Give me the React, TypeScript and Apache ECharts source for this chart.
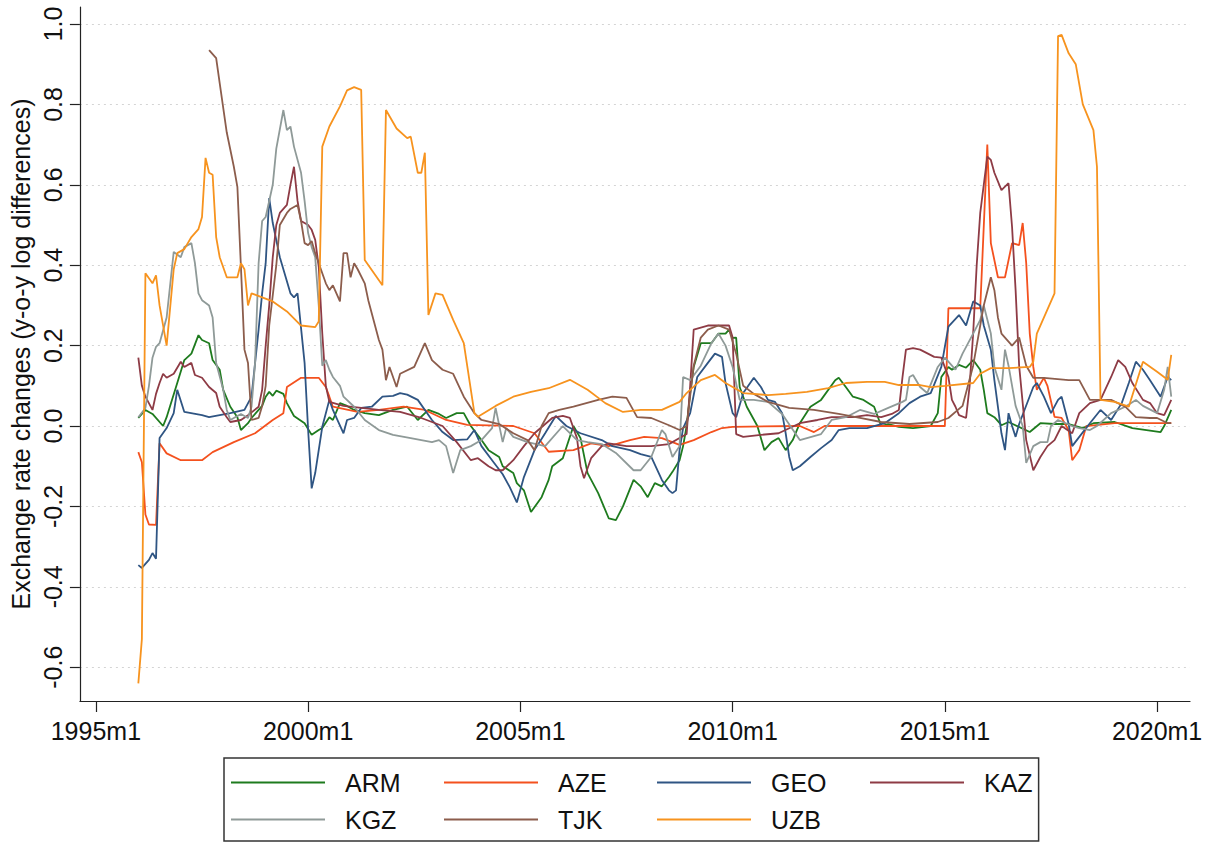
import React, { useEffect, useRef } from "react";
import * as echarts from "echarts";

// x values are months since 1995m1 (0 = 1995m1, 12 = 1996m1, ...)
const COUNTRIES = ["ARM", "AZE", "GEO", "KAZ", "KGZ", "TJK", "UZB"];
const COLORS = ["#1e7b1e", "#f4511e", "#2f5583", "#8e3b45", "#8f9a98", "#8c5d4c", "#f7931e"];
const X_TICKS = [0, 60, 120, 180, 240, 300];
const Y_TICKS = [-0.6, -0.4, -0.2, 0, 0.2, 0.4, 0.6, 0.8, 1.0];
const Y_TITLE = "Exchange rate changes (y-o-y log differences)";

const ARM: [number, number][] = [[12,0.02],[14,0.04],[16,0.03],[19,0.0],[20,0.022],[23,0.107],[25,0.164],[27,0.18],[29,0.226],[30,0.214],[32,0.206],[33,0.164],[35,0.14],[36,0.09],[38,0.048],[40,0.022],[41,-0.01],[43,0.007],[44,0.02],[47,0.05],[48,0.073],[49,0.085],[50,0.075],[51,0.088],[53,0.08],[54,0.057],[56,0.025],[59,0.007],[61,-0.022],[63,-0.01],[64,-0.005],[66,0.022],[67,0.015],[69,0.057],[71,0.05],[73,0.04],[76,0.032],[80,0.027],[84,0.04],[88,0.048],[91,0.015],[94,0.04],[97,0.03],[99,0.02],[102,0.032],[104,0.032],[106,0.0],[109,-0.035],[111,-0.06],[114,-0.077],[115,-0.1],[118,-0.117],[119,-0.142],[121,-0.16],[123,-0.214],[126,-0.177],[128,-0.134],[129,-0.1],[132,-0.08],[135,0.0],[137,-0.03],[139,-0.117],[142,-0.167],[145,-0.23],[147,-0.234],[149,-0.2],[152,-0.134],[154,-0.15],[156,-0.177],[158,-0.142],[160,-0.15],[162,-0.127],[163,-0.114],[165,-0.085],[166,-0.05],[167,0.0],[168,0.082],[169,0.147],[171,0.206],[174,0.206],[176,0.23],[178,0.23],[179,0.24],[180,0.219],[181,0.22],[182,0.097],[184,0.048],[187,0.0],[189,-0.06],[191,-0.04],[193,-0.03],[195,-0.06],[197,-0.035],[199,0.007],[202,0.048],[205,0.065],[209,0.114],[210,0.12],[212,0.097],[214,0.073],[217,0.065],[220,0.048],[222,0.0],[224,0.005],[227,-0.002],[231,-0.005],[236,0.0],[238,0.032],[239,0.122],[241,0.147],[242,0.14],[244,0.152],[246,0.145],[248,0.164],[250,0.14],[251,0.09],[252,0.032],[254,0.022],[256,0.002],[258,0.01],[264,-0.015],[267,0.007],[271,0.005],[275,0.005],[279,-0.005],[282,0.007],[288,0.01],[293,-0.005],[297,-0.01],[301,-0.015],[302,0.0],[304,0.04]];

const AZE: [number, number][] = [[12,-0.065],[13,-0.09],[14,-0.22],[15,-0.245],[17,-0.246],[18,-0.043],[20,-0.068],[24,-0.085],[30,-0.085],[33,-0.065],[39,-0.04],[45,-0.018],[50,0.015],[53,0.032],[54,0.097],[58,0.12],[63,0.12],[65,0.097],[66,0.073],[67,0.048],[74,0.035],[80,0.04],[87,0.048],[93,0.04],[99,0.015],[105,0.003],[118,0.0],[124,-0.018],[128,-0.064],[135,-0.06],[140,-0.043],[145,-0.05],[151,-0.035],[155,-0.027],[160,-0.03],[165,-0.047],[169,-0.035],[174,-0.015],[177,-0.005],[180,-0.002],[199,0.0],[203,-0.015],[206,0.0],[240,0.0],[241,0.293],[250,0.293],[252,0.70],[253,0.455],[255,0.37],[257,0.37],[259,0.455],[261,0.45],[262,0.505],[263,0.405],[264,0.23],[265,0.147],[266,0.09],[268,0.12],[269,0.1],[271,0.023],[273,0.02],[275,-0.01],[276,-0.085],[278,-0.06],[280,0.0],[288,0.007],[304,0.007]];

const GEO: [number, number][] = [[12,-0.346],[13,-0.353],[15,-0.333],[16,-0.316],[17,-0.33],[18,-0.03],[20,-0.005],[22,0.032],[23,0.09],[25,0.035],[30,0.027],[32,0.022],[38,0.032],[42,0.04],[44,0.073],[46,0.24],[47,0.33],[48,0.405],[49,0.567],[50,0.505],[52,0.42],[53,0.39],[55,0.33],[56,0.32],[57,0.33],[59,0.157],[60,-0.01],[61,-0.155],[62,-0.117],[64,-0.002],[66,0.065],[67,0.04],[70,-0.018],[71,0.015],[73,0.02],[75,0.045],[78,0.048],[81,0.073],[84,0.075],[86,0.082],[88,0.078],[91,0.065],[95,0.015],[98,-0.015],[101,-0.035],[105,-0.033],[107,-0.01],[109,-0.05],[112,-0.085],[115,-0.12],[117,-0.152],[119,-0.19],[121,-0.127],[124,-0.06],[127,-0.018],[130,0.025],[133,0.0],[137,-0.018],[143,-0.035],[146,-0.05],[151,-0.06],[154,-0.07],[157,-0.077],[160,-0.134],[162,-0.16],[163,-0.167],[164,-0.16],[165,-0.06],[166,-0.005],[168,0.032],[170,0.122],[173,0.157],[175,0.18],[177,0.172],[178,0.107],[180,0.032],[181,0.022],[183,0.082],[186,0.12],[188,0.097],[190,0.065],[192,0.06],[194,0.032],[195,-0.018],[196,-0.077],[197,-0.11],[199,-0.1],[202,-0.077],[205,-0.055],[208,-0.035],[210,-0.01],[213,-0.005],[218,-0.005],[223,0.007],[227,0.032],[230,0.057],[233,0.073],[236,0.082],[239,0.147],[241,0.247],[244,0.276],[246,0.25],[248,0.31],[250,0.30],[251,0.25],[253,0.19],[254,0.114],[256,-0.018],[257,-0.06],[258,0.032],[259,0.0],[260,-0.027],[261,0.005],[265,0.097],[266,0.107],[268,0.073],[270,0.032],[272,0.065],[273,0.073],[275,0.005],[276,-0.05],[278,-0.027],[281,0.007],[284,0.04],[287,0.015],[290,0.057],[292,0.107],[294,0.16],[296,0.14],[298,0.114],[301,0.073],[303,0.122],[304,0.114]];

const KAZ: [number, number][] = [[12,0.17],[13,0.1],[14,0.073],[16,0.04],[17,0.08],[18,0.107],[19,0.13],[20,0.12],[22,0.13],[24,0.16],[25,0.147],[27,0.157],[28,0.127],[30,0.12],[32,0.097],[34,0.082],[35,0.048],[37,0.022],[38,0.01],[41,0.015],[43,0.027],[46,0.048],[47,0.09],[48,0.2],[49,0.3],[50,0.42],[51,0.5],[52,0.53],[54,0.55],[55,0.6],[56,0.645],[57,0.56],[58,0.51],[60,0.5],[61,0.488],[62,0.463],[63,0.396],[64,0.23],[65,0.1],[66,0.06],[70,0.05],[75,0.045],[80,0.04],[86,0.035],[92,0.02],[98,0.0],[102,-0.04],[106,-0.085],[108,-0.08],[111,-0.1],[113,-0.11],[115,-0.11],[118,-0.085],[121,-0.05],[124,-0.018],[129,0.02],[132,0.025],[134,0.02],[136,-0.03],[137,-0.1],[138,-0.13],[140,-0.08],[143,-0.05],[145,-0.043],[150,-0.05],[157,-0.05],[162,-0.045],[165,-0.03],[167,-0.02],[168,0.1],[169,0.24],[173,0.25],[179,0.25],[180,0.22],[181,-0.02],[183,-0.027],[188,-0.022],[193,-0.018],[199,0.007],[204,0.015],[208,0.022],[214,0.022],[218,0.027],[222,0.022],[225,0.03],[227,0.04],[228,0.12],[229,0.19],[231,0.194],[233,0.19],[237,0.172],[239,0.17],[241,0.122],[242,0.065],[243,0.048],[244,0.027],[246,0.02],[247,0.1],[248,0.23],[249,0.40],[250,0.53],[252,0.67],[253,0.662],[254,0.63],[256,0.587],[258,0.604],[259,0.495],[260,0.338],[261,0.15],[263,-0.035],[265,-0.11],[267,-0.077],[269,-0.05],[271,-0.035],[273,0.0],[276,-0.018],[278,0.032],[281,0.057],[284,0.065],[287,0.122],[289,0.164],[291,0.147],[293,0.107],[296,0.065],[298,0.057],[300,0.032],[302,0.027],[304,0.065]];

const KGZ: [number, number][] = [[12,0.022],[14,0.045],[15,0.1],[16,0.17],[17,0.197],[18,0.206],[20,0.27],[22,0.433],[24,0.42],[25,0.445],[27,0.455],[28,0.405],[29,0.33],[30,0.313],[32,0.30],[33,0.27],[34,0.157],[36,0.09],[37,0.04],[38,0.015],[41,0.03],[43,0.02],[44,0.048],[45,0.157],[46,0.405],[47,0.51],[48,0.52],[50,0.6],[51,0.69],[53,0.786],[54,0.736],[55,0.745],[56,0.695],[58,0.63],[59,0.56],[60,0.48],[61,0.445],[62,0.42],[63,0.3],[64,0.15],[65,0.164],[66,0.14],[67,0.122],[69,0.1],[70,0.073],[73,0.048],[76,0.015],[80,-0.01],[84,-0.022],[89,-0.03],[95,-0.04],[97,-0.035],[99,-0.05],[101,-0.117],[103,-0.06],[106,-0.05],[109,-0.035],[112,-0.005],[113,0.045],[115,-0.04],[116,-0.005],[118,-0.027],[122,-0.04],[127,-0.05],[132,0.0],[136,-0.035],[139,-0.04],[143,-0.045],[147,-0.067],[152,-0.11],[154,-0.11],[157,-0.077],[160,-0.01],[161,-0.02],[163,-0.077],[165,-0.05],[166,0.122],[168,0.114],[171,0.15],[174,0.206],[176,0.23],[178,0.2],[180,0.147],[182,0.065],[186,0.065],[190,0.06],[194,0.03],[199,-0.035],[205,-0.02],[208,0.015],[212,0.022],[216,0.04],[220,0.03],[224,0.045],[228,0.06],[229,0.065],[230,0.122],[231,0.127],[233,0.097],[235,0.082],[238,0.147],[240,0.17],[242,0.15],[243,0.14],[245,0.18],[248,0.23],[250,0.264],[251,0.3],[253,0.23],[254,0.147],[256,0.09],[257,0.19],[258,0.15],[260,0.05],[262,0.0],[263,-0.092],[265,-0.05],[267,-0.04],[269,-0.04],[270,0.0],[272,0.015],[276,0.0],[278,-0.005],[281,-0.01],[283,0.0],[287,0.032],[291,0.048],[294,0.065],[296,0.05],[300,0.032],[302,0.09],[303,0.147],[304,0.073]];

const TJK: [number, number][] = [[32,0.935],[34,0.915],[35,0.853],[37,0.73],[39,0.645],[40,0.595],[41,0.396],[42,0.19],[43,0.157],[44,0.015],[46,0.02],[47,0.05],[48,0.1],[49,0.25],[51,0.4],[52,0.5],[54,0.53],[55,0.54],[57,0.55],[58,0.51],[59,0.455],[60,0.45],[61,0.46],[62,0.43],[64,0.38],[65,0.355],[66,0.338],[67,0.35],[69,0.31],[70,0.43],[71,0.43],[72,0.37],[73,0.405],[74,0.39],[76,0.355],[77,0.313],[80,0.214],[81,0.19],[82,0.114],[83,0.147],[85,0.097],[86,0.13],[90,0.147],[93,0.206],[95,0.164],[98,0.14],[101,0.13],[104,0.073],[107,0.032],[109,0.015],[114,0.005],[118,-0.018],[122,-0.035],[124,-0.06],[126,0.0],[128,0.032],[131,0.04],[135,0.048],[142,0.065],[146,0.073],[150,0.07],[153,0.022],[157,0.02],[162,0.002],[165,-0.01],[167,0.0],[169,0.15],[171,0.22],[173,0.24],[176,0.25],[179,0.24],[181,0.18],[183,0.1],[186,0.08],[190,0.06],[196,0.045],[203,0.04],[210,0.03],[216,0.02],[222,0.01],[230,0.005],[238,0.01],[241,0.02],[245,0.05],[248,0.15],[250,0.25],[251,0.3],[253,0.37],[254,0.338],[255,0.27],[256,0.23],[257,0.22],[259,0.2],[261,0.22],[263,0.15],[265,0.12],[268,0.12],[275,0.114],[278,0.114],[281,0.065],[287,0.065],[291,0.048],[294,0.022],[298,0.02],[300,0.02],[303,0.007],[304,0.007]];

const UZB: [number, number][] = [[12,-0.64],[13,-0.53],[14,0.38],[16,0.355],[17,0.375],[18,0.30],[20,0.20],[22,0.39],[23,0.43],[25,0.44],[27,0.47],[29,0.49],[30,0.52],[31,0.667],[32,0.63],[33,0.625],[34,0.47],[35,0.42],[37,0.37],[40,0.37],[41,0.405],[42,0.39],[43,0.30],[44,0.33],[47,0.32],[50,0.31],[54,0.285],[58,0.25],[62,0.246],[63,0.26],[64,0.695],[66,0.745],[69,0.795],[71,0.835],[73,0.843],[75,0.836],[76,0.413],[81,0.35],[82,0.786],[85,0.74],[88,0.716],[89,0.72],[91,0.63],[92,0.63],[93,0.68],[94,0.276],[96,0.33],[98,0.326],[101,0.264],[104,0.206],[107,0.032],[108,0.023],[113,0.05],[118,0.073],[123,0.085],[128,0.094],[134,0.115],[139,0.09],[144,0.057],[149,0.035],[154,0.04],[160,0.04],[165,0.06],[167,0.082],[171,0.114],[175,0.127],[178,0.107],[183,0.082],[190,0.077],[195,0.08],[201,0.085],[207,0.094],[212,0.107],[218,0.11],[223,0.11],[227,0.102],[233,0.102],[236,0.097],[240,0.1],[248,0.107],[250,0.13],[253,0.144],[258,0.144],[264,0.147],[265,0.16],[266,0.23],[271,0.33],[272,0.97],[273,0.973],[275,0.927],[277,0.9],[279,0.80],[282,0.736],[283,0.645],[284,0.065],[288,0.06],[292,0.048],[296,0.16],[300,0.135],[303,0.115],[304,0.177]];

const SERIES_DATA = [ARM, AZE, GEO, KAZ, KGZ, TJK, UZB];
const FONT = "Arial, 'Liberation Sans', Helvetica, sans-serif";

export default function App() {
  const ref = useRef<HTMLDivElement>(null);
  useEffect(() => {
    document.body.style.margin = "0";
    const chart = echarts.init(ref.current!, null, { renderer: "svg" });
    chart.setOption({
      animation: false,
      backgroundColor: "#ffffff",
      textStyle: { fontFamily: FONT },
      grid: { left: 79, right: 30, top: 7, bottom: 141, containLabel: false },
      xAxis: {
        type: "value",
        min: -4.52,
        max: 309.3,
        axisLine: { show: true, onZero: false, lineStyle: { color: "#222", width: 1.2 } },
        axisTick: { show: true, length: 11, customValues: X_TICKS, lineStyle: { color: "#222", width: 1.2 } },
        axisLabel: {
          customValues: X_TICKS,
          margin: 17,
          fontSize: 25,
          color: "#111",
          fontFamily: FONT,
          formatter: (v: number) => `${1995 + Math.round(v / 12)}m1`,
        },
        splitLine: { show: false },
      },
      yAxis: {
        type: "value",
        min: -0.684,
        max: 1.0423,
        name: Y_TITLE,
        nameLocation: "middle",
        nameRotate: 90,
        nameGap: 45,
        nameTextStyle: { fontSize: 25, color: "#111", fontFamily: FONT },
        axisLine: { show: true, onZero: false, lineStyle: { color: "#222", width: 1.2 } },
        axisTick: { show: true, length: 10, customValues: Y_TICKS, lineStyle: { color: "#222", width: 1.2 } },
        axisLabel: {
          customValues: Y_TICKS,
          rotate: 90,
          margin: 14,
          fontSize: 25,
          color: "#111",
          fontFamily: FONT,
          formatter: (v: number) => v.toFixed(1),
        },
        splitLine: { show: true, lineStyle: { color: "#d4d4d4", type: [2, 4], width: 1 } },
      },
      legend: {
        left: 224,
        top: 758,
        width: 825,
        orient: "horizontal",
        padding: [11, 6, 8, 7],
        itemGap: 10,
        itemWidth: 94,
        itemHeight: 2,
        icon: "rect",
        borderColor: "#333",
        borderWidth: 1.5,
        textStyle: { fontSize: 25, color: "#111", fontFamily: FONT, width: 89, lineHeight: 27, padding: [0, 0, 0, 15] },
        data: COUNTRIES.map((n) => (n === "KAZ" ? { name: n, textStyle: { width: 48 } } : { name: n })),
      },
      series: COUNTRIES.map((name, i) => ({
        name,
        type: "line",
        data: SERIES_DATA[i],
        color: COLORS[i],
        showSymbol: false,
        symbol: "none",
        lineStyle: { width: 1.8, color: COLORS[i] },
        itemStyle: { color: COLORS[i] },
        silent: true,
      })),
    });
    return () => chart.dispose();
  }, []);
  return <div ref={ref} style={{ width: 1220, height: 842 }} />;
}
